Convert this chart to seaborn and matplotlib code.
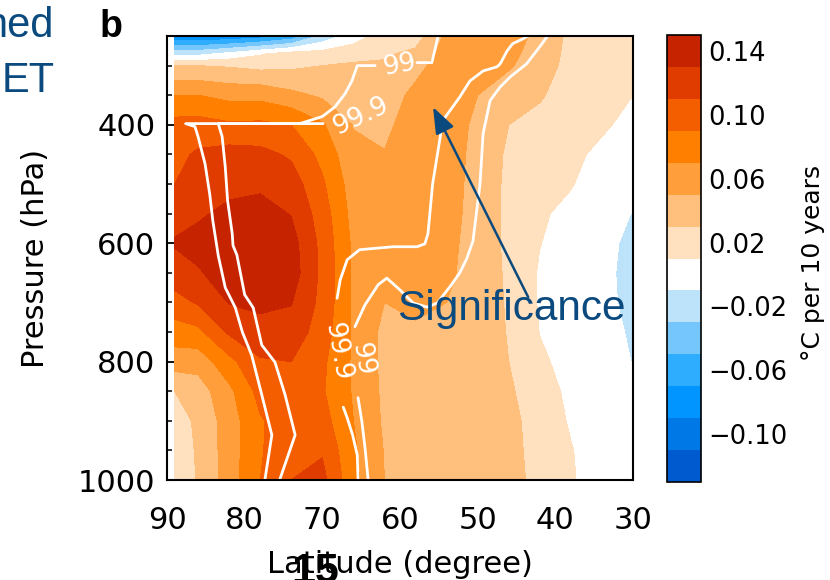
import numpy as np
import matplotlib
matplotlib.use("Agg")
import matplotlib.pyplot as plt
from matplotlib.patches import ArrowStyle
import seaborn as sns

# ---------------- data ----------------
latitudes = [89, 86, 82, 78, 74, 70, 66, 62, 58, 54, 50, 46, 42, 38, 34, 30]
pressures = [250, 280, 300, 350, 400, 450, 500, 550, 600, 650, 700, 750, 800, 850, 900, 950, 1000]

# temperature trend (degC per 10 years), one column per latitude, top (250 hPa) to bottom (1000 hPa)
trend_lat89 = [-0.090, -0.018, 0.030, 0.070, 0.097, 0.104, 0.110, 0.122, 0.132, 0.120, 0.103, 0.080, 0.060, 0.030, 0.020, 0.020, 0.020]
trend_lat86 = [-0.090, -0.016, 0.030, 0.070, 0.098, 0.113, 0.120, 0.127, 0.137, 0.128, 0.112, 0.085, 0.058, 0.040, 0.034, 0.032, 0.031]
trend_lat82 = [-0.087, -0.005, 0.028, 0.064, 0.093, 0.118, 0.124, 0.135, 0.142, 0.140, 0.131, 0.113, 0.084, 0.065, 0.060, 0.060, 0.060]
trend_lat78 = [-0.080, 0.008, 0.024, 0.064, 0.094, 0.116, 0.126, 0.138, 0.146, 0.145, 0.135, 0.122, 0.108, 0.097, 0.088, 0.088, 0.090]
trend_lat74 = [-0.065, 0.018, 0.026, 0.055, 0.090, 0.107, 0.120, 0.129, 0.138, 0.140, 0.131, 0.122, 0.110, 0.103, 0.102, 0.105, 0.110]
trend_lat70 = [-0.025, 0.018, 0.030, 0.047, 0.072, 0.084, 0.093, 0.100, 0.104, 0.105, 0.104, 0.100, 0.094, 0.092, 0.098, 0.108, 0.116]
trend_lat66 = [0.000, 0.022, 0.033, 0.042, 0.049, 0.055, 0.060, 0.063, 0.066, 0.067, 0.067, 0.067, 0.067, 0.068, 0.070, 0.073, 0.075]
trend_lat62 = [0.020, 0.027, 0.033, 0.040, 0.045, 0.051, 0.057, 0.060, 0.060, 0.057, 0.050, 0.045, 0.045, 0.046, 0.047, 0.049, 0.050]
trend_lat58 = [0.020, 0.035, 0.044, 0.055, 0.061, 0.062, 0.063, 0.063, 0.062, 0.060, 0.056, 0.046, 0.043, 0.043, 0.043, 0.043, 0.043]
trend_lat54 = [0.055, 0.058, 0.060, 0.062, 0.062, 0.061, 0.060, 0.058, 0.056, 0.054, 0.050, 0.045, 0.042, 0.041, 0.041, 0.040, 0.040]
trend_lat50 = [0.060, 0.058, 0.056, 0.050, 0.045, 0.043, 0.042, 0.042, 0.041, 0.041, 0.040, 0.039, 0.039, 0.039, 0.038, 0.038, 0.038]
trend_lat46 = [0.058, 0.055, 0.052, 0.040, 0.030, 0.027, 0.026, 0.026, 0.026, 0.027, 0.028, 0.029, 0.030, 0.033, 0.036, 0.037, 0.037]
trend_lat42 = [0.045, 0.042, 0.040, 0.032, 0.024, 0.019, 0.015, 0.012, 0.0105, 0.008, 0.008, 0.0095, 0.013, 0.018, 0.021, 0.022, 0.024]
trend_lat38 = [0.025, 0.024, 0.023, 0.021, 0.017, 0.013, 0.011, 0.006, 0.002, 0.000, 0.000, 0.002, 0.004, 0.006, 0.008, 0.011, 0.012]
trend_lat34 = [0.022, 0.021, 0.020, 0.017, 0.012, 0.007, 0.002, -0.004, -0.007, -0.008, -0.008, -0.006, -0.003, 0.000, 0.000, 0.000, 0.000]
trend_lat30 = [0.020, 0.020, 0.018, 0.010, 0.006, 0.002, -0.004, -0.0105, -0.0125, -0.0125, -0.012, -0.0115, -0.0105, -0.006, -0.003, -0.002, -0.002]

# significance contour traces (latitude, pressure)
sig999_west_lat = [77.4, 76.5, 77.8, 79.1, 80.3, 81.2, 82.5, 83.4, 84.1, 84.5, 85.1, 86.0, 86.4, 87.6, 69.9]
sig999_west_p = [1000, 924, 856, 789, 750, 709, 675, 621, 562, 517, 466, 420, 403, 398, 398]
sig99_west_lat = [75.5, 73.5, 74.8, 76.1, 77.8, 78.9, 80.0, 81.0, 81.5, 81.6, 82.2, 82.5, 82.9, 83.4, 72.9, 70.0, 68.4, 67.1, 66.2, 65.5, 63.2]
sig99_west_p = [1000, 924, 856, 801, 772, 709, 687, 620, 604, 584, 528, 471, 420, 398, 398, 386, 370, 348, 326, 300, 300]
sig99_top_lat = [57.8, 55.9, 55.2, 55.1]
sig99_top_p = [295, 295, 256, 250]
sig999_east_lat = [43.5, 44.2, 45.5, 46.2, 47.1, 47.5, 49.3, 51.0, 52.3, 54.5, 54.9, 55.8, 56.4, 56.8, 57.8, 60.9, 65.2, 66.8, 67.7, 68.1]
sig999_east_p = [250, 255, 263, 275, 297, 302, 309, 326, 353, 393, 427, 500, 584, 601, 606, 606, 611, 628, 662, 693]
sig999_low_lat = [67.3, 66.8, 66.1, 65.5, 65.4]
sig999_low_p = [877, 895, 924, 958, 1000]
sig99_east_lat = [41.0, 42.0, 43.7, 45.8, 47.1, 48.4, 49.3, 49.7, 50.6, 51.4, 52.3, 53.6, 55.2, 56.5, 58.3, 60.0, 61.7, 62.8, 64.5, 65.8]
sig99_east_p = [250, 268, 297, 319, 336, 359, 415, 500, 596, 626, 650, 674, 701, 708, 701, 679, 659, 670, 704, 741]
sig99_low_lat = [65.4, 64.9, 64.5, 64.1]
sig99_low_p = [861, 902, 946, 1000]

# contour labels: text, latitude, pressure, rotation
label_text = ["99", "99.9", "99.9", "99"]
label_lat = [60.0, 65.0, 68.0, 64.9]
label_p = [300, 385, 784, 796]
label_rot = [10, 25, -80, -80]

levels = [-0.13, -0.11, -0.09, -0.07, -0.05, -0.03, -0.01, 0.01, 0.03, 0.05, 0.07, 0.09, 0.11, 0.13, 0.15]
level_colors = ["#005ACF", "#0078E6", "#0095FF", "#2EADFE", "#74C6FC", "#BDE3FB", "#FFFFFF",
                "#FFE0BF", "#FFBF7D", "#FF9E3B", "#FF8000", "#F55E00", "#E03C00", "#C62300"]
cbar_ticks = [0.14, 0.10, 0.06, 0.02, -0.02, -0.06, -0.10]
cbar_ticklabels = ["0.14", "0.10", "0.06", "0.02", "\u22120.02", "\u22120.06", "\u22120.10"]
x_ticks = [90, 80, 70, 60, 50, 40, 30]
y_ticks = [400, 600, 800, 1000]

# ---------------- style ----------------
sns.set_theme(style="ticks")
plt.rcParams["font.family"] = ["DejaVu Sans"]
plt.rcParams["axes.linewidth"] = 1.5
plt.rcParams["text.color"] = "black"
plt.rcParams["axes.labelcolor"] = "black"
plt.rcParams["xtick.color"] = "black"
plt.rcParams["ytick.color"] = "black"

NAVY = "#0B4A7E"

fig = plt.figure(figsize=(8.3, 5.8), dpi=100)
fig.patch.set_facecolor("white")
ax = fig.add_axes([167 / 830, 100 / 580, 466 / 830, 444 / 580])
cax = fig.add_axes([667 / 830, 98 / 580, 34 / 830, 447 / 580])
ax.set_facecolor("white")

Z = np.column_stack([trend_lat89, trend_lat86, trend_lat82, trend_lat78, trend_lat74, trend_lat70,
                     trend_lat66, trend_lat62, trend_lat58, trend_lat54, trend_lat50, trend_lat46,
                     trend_lat42, trend_lat38, trend_lat34, trend_lat30])
cf = ax.contourf(latitudes, pressures, Z, levels=levels, colors=level_colors)

# significance lines drawn with seaborn
traces = [(sig999_west_lat, sig999_west_p), (sig99_west_lat, sig99_west_p), (sig99_top_lat, sig99_top_p),
          (sig999_east_lat, sig999_east_p), (sig999_low_lat, sig999_low_p),
          (sig99_east_lat, sig99_east_p), (sig99_low_lat, sig99_low_p)]
for lx, ly in traces:
    sns.lineplot(x=lx, y=ly, sort=False, estimator=None, color="white", linewidth=2.0, ax=ax,
                 legend=False)

for t, lx, ly, r in zip(label_text, label_lat, label_p, label_rot):
    ax.text(lx, ly, t, color="white", fontsize=19, rotation=r, ha="center", va="center",
            rotation_mode="anchor")

# annotation
ax.annotate("", xy=(55.75, 370), xytext=(43.5, 691),
            arrowprops=dict(arrowstyle=ArrowStyle("-|>", head_length=0.8, head_width=0.3),
                            mutation_scale=20, color=NAVY, lw=1.8, shrinkA=0, shrinkB=0))
ax.text(60.4, 730, "Significance", color=NAVY, fontsize=30.5, family="Liberation Sans",
        ha="left", va="baseline")

# axes
ax.set_xlim(90, 30)
ax.set_ylim(1000, 250)
ax.set_xticks(x_ticks)
ax.set_xticklabels([str(v) for v in x_ticks])
ax.set_xticks(np.arange(30, 91, 1), minor=True)
ax.set_yticks(y_ticks)
ax.set_yticklabels([str(v) for v in y_ticks])
ax.set_yticks(np.arange(250, 1001, 50), minor=True)
ax.tick_params(which="both", direction="in", top=True, right=True, colors="black")
ax.tick_params(which="major", length=7, width=1.3)
ax.tick_params(which="minor", length=3.3, width=1.1)
ax.tick_params(axis="x", which="major", labelsize=22, pad=19)
ax.tick_params(axis="y", which="major", labelsize=22, pad=8.5)
for s in ax.spines.values():
    s.set_linewidth(1.5)
    s.set_color("black")
ax.set_xlabel("Latitude (degree)", fontsize=22, color="black")
ax.set_ylabel("Pressure (hPa)", fontsize=22, color="black")
ax.xaxis.set_label_coords(0.5, -0.158)
ax.yaxis.set_label_coords(-0.251, 0.5)

# colorbar
cb = fig.colorbar(cf, cax=cax)
cb.set_ticks(cbar_ticks, labels=cbar_ticklabels)
cb.ax.tick_params(length=0, labelsize=18.5, pad=5.5, colors="black")
cb.outline.set_linewidth(1.2)
cb.outline.set_edgecolor("black")
cb.set_label("\u00b0C per 10 years", fontsize=18, color="black")
cb.ax.yaxis.set_label_coords(3.95, 0.49)

# figure-level texts
fig.text(100 / 830, 1 - 37 / 580, "b", fontsize=27, fontweight="bold", family="Liberation Sans",
         ha="left", va="baseline")
fig.text(53 / 830, 1 - 37 / 580, "hed", fontsize=30, color=NAVY, family="Liberation Sans",
         ha="right", va="baseline")
fig.text(55 / 830, 1 - 92 / 580, "ET", fontsize=30, color=NAVY, family="Liberation Sans",
         ha="right", va="baseline")
fig.text(315 / 830, 1 - 583 / 580, "15", fontsize=31, fontweight="bold", family="Liberation Sans",
         ha="center", va="baseline")

fig.savefig("out.png", dpi=100, facecolor="white")
